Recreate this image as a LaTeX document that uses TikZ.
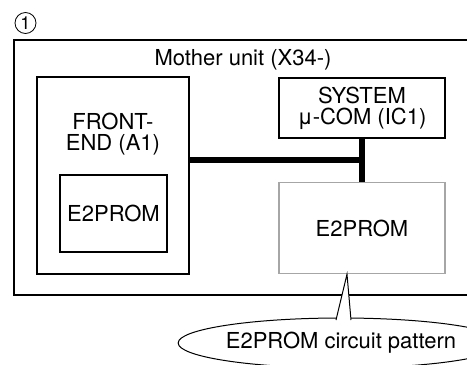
\documentclass[tikz,border=0pt]{standalone}
\usepackage{fontspec}
\setmainfont{TeX Gyre Heros}
\usetikzlibrary{positioning, shapes.geometric}

\begin{document}
\begin{tikzpicture}[x=1pt, y=-1pt,
  font=\fontsize{22}{21}\selectfont,
  unitbox/.style={draw, inner sep=0pt, line width=2pt},
  bus/.style={line width=6pt},
  ]
  \useasboundingbox (0,0) rectangle (467,365);

  % number mark
  \node[circle, draw, line width=0.8pt, minimum size=21pt, inner sep=0pt, font=\fontsize{18}{18}\selectfont] (num) at (25.5,23) {1};

  % mother unit, open past the right edge
  \node[unitbox, line width=2.7pt, minimum width=486pt, minimum height=255pt] (mother) at (257,167.5) {};
  \node (motherlabel) at (243,60) {Mother unit (X34-)};

  % front-end with its own E2PROM
  \node[unitbox, minimum width=152pt, minimum height=197pt] (fe) at (113,175.5) {};
  \node[align=center] (felabel) at (113,134) {FRONT-\\END (A1)};
  \node[unitbox, line width=1.3pt, minimum width=107pt, minimum height=77pt] (feep) at (113.5,213.5) {E2PROM};

  % system micro-computer and E2PROM
  \node[unitbox, align=center, minimum width=166pt, minimum height=60pt] (sys) at (362,108) {SYSTEM\\μ-COM (IC1)};
  \node[unitbox, draw=gray!70, line width=1.5pt, minimum width=166pt, minimum height=91pt] (ep) at (362,228) {E2PROM};

  % bus lines
  \coordinate (j) at (362,160);
  \draw[bus] (sys.south) -- (ep.north);
  \draw[bus] (fe.east |- j) -- (j);

  % callout
  \node[ellipse, draw, line width=1pt, minimum width=242pt, minimum height=50pt, inner sep=0pt] (note) at (341,343) {E2PROM circuit pattern};
  \coordinate (tip) at ([xshift=-15pt]ep.south);
  \coordinate (tl) at (336,320);
  \coordinate (tr) at (351,320);
  \fill[white] (tip) -- (tl) -- (tr) -- cycle;
  \draw[line width=1pt] (tl) -- (tip) -- (tr);
\end{tikzpicture}
\end{document}
